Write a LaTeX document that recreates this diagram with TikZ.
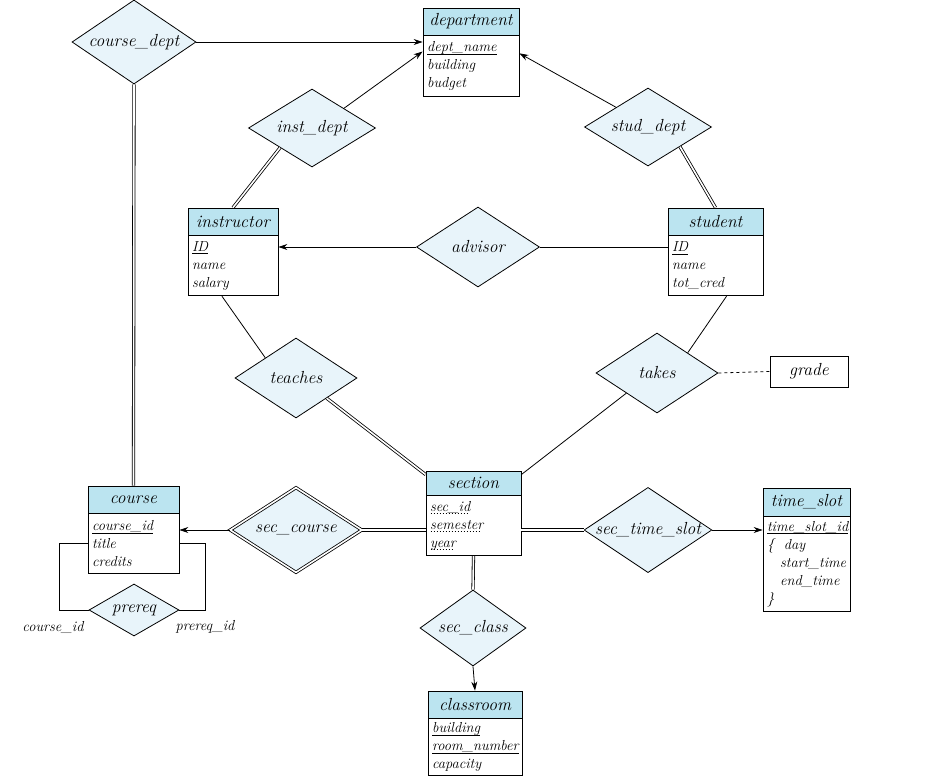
\documentclass[tikz,border=0pt]{standalone}
\usetikzlibrary{shapes.geometric,arrows.meta}

\definecolor{titleblue}{RGB}{187,228,240}
\definecolor{relblue}{RGB}{232,244,250}

\newcommand\erattr{\fontsize{14.5}{18}\selectfont\itshape}
\newcommand\ertitle{\fontsize{17.5}{20}\selectfont\itshape}
% primary key / discriminator underlines
\newcommand\keyul[1]{\setbox0=\hbox{#1}\leavevmode\rlap{\copy0}\raisebox{-2.5pt}{\rule{\wd0}{0.6pt}}}
\newcommand\dashul[1]{\setbox0=\hbox{#1}\leavevmode\rlap{\copy0}\raisebox{-2.5pt}{\hbox to \wd0{\leaders\hbox to 3pt{\hss\rule{1.8pt}{0.5pt}\hss}\hfill}}}

\tikzset{
  etitle/.style={draw, fill=titleblue, minimum width=#1, minimum height=27, inner sep=0pt, font=\ertitle},
  ebody/.style 2 args={draw, fill=white, anchor=north, align=left, text width=#1, minimum height=#2, inner xsep=4pt, inner ysep=0pt, font=\erattr},
  rel/.style={draw, diamond, aspect=1.5, fill=relblue, inner sep=0pt, font=\ertitle},
  lbl/.style={font=\erattr},
  dbl/.style={double, double distance=1.6pt},
  arr/.style={-{Stealth[length=9pt,width=6pt]}},
}

\begin{document}
\begin{tikzpicture}[x=1pt, y=-1pt, line width=0.8pt]
\useasboundingbox (0,0) rectangle (930,782);

% entity sets
\node[etitle=96] (dept) at (471,21.5) {department};
\node[ebody={88pt}{61}] (deptB) at (dept.south) {\keyul{dept\_name}\\building\\budget};

\node[etitle=90] (inst) at (233,221.5) {instructor};
\node[ebody={82pt}{60}] (instB) at (inst.south) {\keyul{ID}\\name\\salary};

\node[etitle=95] (stud) at (715.5,221.5) {student};
\node[ebody={87pt}{60}] (studB) at (stud.south) {\keyul{ID}\\name\\tot\_cred};

\node[etitle=95, minimum height=24] (sec) at (473.5,483) {section};
\node[ebody={87pt}{60}] (secB) at (sec.south) {\dashul{sec\_id}\\\dashul{semester}\\\dashul{year}};

\node[etitle=91] (course) at (133.5,499.5) {course};
\node[ebody={83pt}{60}] (courseB) at (course.south) {\keyul{course\_id}\\title\\credits};

\node[etitle=87, minimum height=28] (slot) at (806.5,502) {time\_slot};
\node[ebody={79pt}{95}] (slotB) at (slot.south) {\keyul{time\_slot\_id}\\\{\ \ day\\\hspace*{0.9em}start\_time\\\hspace*{0.9em}end\_time\\\}};

\node[etitle=94] (room) at (475,704.5) {classroom};
\node[ebody={86pt}{57}] (roomB) at (room.south) {\keyul{building}\\\keyul{room\_number}\\capacity};

\node[draw, minimum width=78, minimum height=31, font=\ertitle] (grade) at (809,371.5) {grade};

% relationship sets
\node[rel, minimum width=124, minimum height=84] (cdept) at (134,42) {course\_dept};
\node[rel, minimum width=127, minimum height=78] (instd) at (312,128) {inst\_dept};
\node[rel, minimum width=127, minimum height=78] (studd) at (648,127) {stud\_dept};
\node[rel, minimum width=123, minimum height=80] (adv) at (478,247) {advisor};
\node[rel, minimum width=122, minimum height=80] (teach) at (296,378) {teaches};
\node[rel, minimum width=122, minimum height=80] (takes) at (657,373) {takes};
\node[rel, dbl, minimum width=132, minimum height=85] (seccourse) at (296,530) {sec\_course};
\node[rel, minimum width=124, minimum height=84] (sects) at (648,530) {sec\_time\_slot};
\node[rel, minimum width=106, minimum height=76] (secclass) at (473,628) {sec\_class};
\node[rel, minimum width=90, minimum height=52] (prereq) at (134,610) {prereq};

\node[lbl] (cid) at (53,627) {course\_id};
\node[lbl] (pid) at (205,627) {prereq\_id};

% connectors
\draw[arr] (cdept.east) -- (cdept.east -| deptB.west);
\draw[dbl] (cdept.south) -- (course.north);
\draw[arr] (instd.north east) -- (deptB.163);
\draw[dbl] (instd.south west) -- (inst.north);
\draw[arr] (studd.north west) -- (deptB.15);
\draw[dbl] (studd.south east) -- (stud.north);
\draw[arr] (adv.west) -- (adv.west -| instB.east);
\draw (adv.east) -- (adv.east -| studB.west);
\draw (instB.250) -- (teach.north west);
\draw[dbl] (teach.south east) -- (sec.170);
\draw (studB.290) -- (takes.north east);
\draw (takes.south west) -- (sec.10);
\draw[dashed] (takes.east) -- (grade.west);
\draw[arr] (seccourse.west) -- (seccourse.west -| courseB.east);
\draw[dbl] (seccourse.east) -- (seccourse.east -| secB.west);
\draw[dbl] (sects.west -| secB.east) -- (sects.west);
\draw[arr] (sects.east) -- (sects.east -| slotB.west);
\draw[dbl] (secB.south) -- (secclass.north);
\draw[arr] (secclass.south) -- (room.north);
\draw (courseB.west) -- ++(-28,0) |- (prereq.west);
\draw (courseB.east) -- ++(26,0) |- (prereq.east);

\end{tikzpicture}
\end{document}
